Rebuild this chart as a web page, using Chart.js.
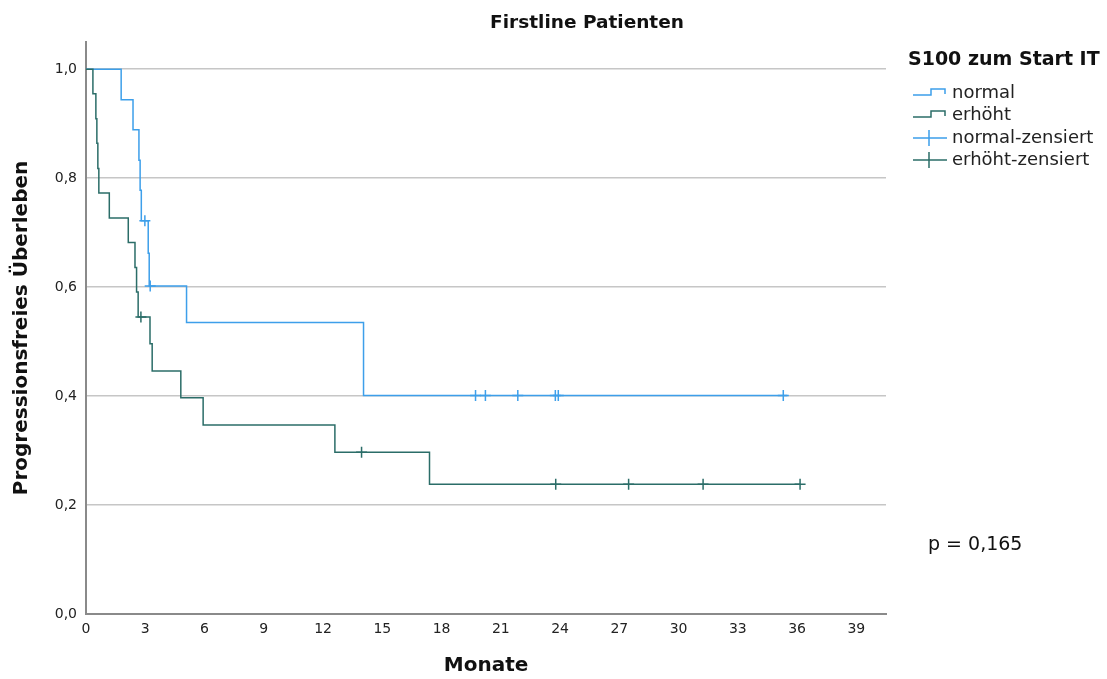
<!DOCTYPE html>
<html><head><meta charset="utf-8">
<script src="https://cdn.jsdelivr.net/npm/chart.js@4.4.1/dist/chart.umd.min.js"></script>
<style>html,body{margin:0;padding:0;background:#fff}#wrap{width:1107px;height:679px;position:relative}canvas{display:block}</style>
</head><body><div id="wrap"><canvas id="c" width="1107" height="679"></canvas></div>
<script>
// Kaplan-Meier step data (months, survival)
const normalTimes = [0, 1.78, 2.38, 2.68, 2.74, 2.8, 3.15, 3.2, 5.09, 14.05, 35.5];
const normalSurv  = [1, 0.944, 0.889, 0.833, 0.778, 0.722, 0.662, 0.602, 0.535, 0.401, 0.401];
const normalCensTimes = [2.98, 3.25, 19.72, 20.22, 21.86, 23.76, 23.91, 35.3];
const normalCensSurv  = [0.722, 0.602, 0.401, 0.401, 0.401, 0.401, 0.401, 0.401];

const erhoehtTimes = [0, 0.35, 0.5, 0.55, 0.6, 0.65, 1.18, 2.14, 2.48, 2.56, 2.64, 3.24, 3.35, 4.8, 5.93, 12.6, 17.39, 36.15];
const erhoehtSurv  = [1, 0.955, 0.909, 0.864, 0.818, 0.773, 0.727, 0.682, 0.636, 0.591, 0.545, 0.496, 0.446, 0.397, 0.347, 0.297, 0.238, 0.238];
const erhoehtCensTimes = [2.78, 13.95, 23.78, 27.47, 31.24, 36.15];
const erhoehtCensSurv  = [0.545, 0.297, 0.238, 0.238, 0.238, 0.238];

const xTicks = [0, 3, 6, 9, 12, 15, 18, 21, 24, 27, 30, 33, 36, 39];
const yTicks = [0, 0.2, 0.4, 0.6, 0.8, 1.0];

const chartTitle = 'Firstline Patienten';
const legendTitle = 'S100 zum Start IT';
const seriesNames = ['normal', 'erhöht', 'normal-zensiert', 'erhöht-zensiert'];
const pText = 'p = 0,165';
const xTitle = 'Monate';
const yTitle = 'Progressionsfreies Überleben';

const BLUE = '#3d9fea';
const TEAL = '#2b6d68';
const FONT = '"DejaVu Sans", sans-serif';

const pts = (xs, ys) => xs.map((x, i) => ({x, y: ys[i]}));

const overlay = {
  id: 'overlay',
  afterDraw(chart) {
    const ctx = chart.ctx;
    ctx.save();
    ctx.fillStyle = '#111';
    ctx.textBaseline = 'middle';
    ctx.font = 'bold 18.5px ' + FONT;
    ctx.textAlign = 'center';
    ctx.fillText(chartTitle, 587, 23);
    ctx.textAlign = 'left';
    ctx.font = 'bold 19px ' + FONT;
    ctx.fillText(legendTitle, 908, 60);
    ctx.font = '18px ' + FONT;
    const rows = [93, 115, 138, 160];
    const cols = [BLUE, TEAL, BLUE, TEAL];
    rows.forEach((y, i) => {
      ctx.strokeStyle = cols[i];
      ctx.lineWidth = 1.5;
      ctx.beginPath();
      if (i < 2) {
        ctx.moveTo(913, y + 2); ctx.lineTo(931, y + 2); ctx.lineTo(931, y - 4);
        ctx.lineTo(945, y - 4); ctx.lineTo(945, y + 1);
      } else {
        ctx.moveTo(913, y); ctx.lineTo(947, y);
        ctx.moveTo(929, y - 8); ctx.lineTo(929, y + 8);
      }
      ctx.stroke();
      ctx.fillStyle = '#222';
      ctx.fillText(seriesNames[i], 952, y);
    });
    ctx.font = '19px ' + FONT;
    ctx.fillStyle = '#111';
    ctx.fillText(pText, 928, 545);
    ctx.restore();
  }
};

new Chart(document.getElementById('c'), {
  type: 'line',
  data: {
    datasets: [
      {label: seriesNames[1], data: pts(erhoehtTimes, erhoehtSurv), stepped: 'before', borderColor: TEAL, borderWidth: 1.5, pointRadius: 0, fill: false},
      {label: seriesNames[0], data: pts(normalTimes, normalSurv), stepped: 'before', borderColor: BLUE, borderWidth: 1.5, pointRadius: 0, fill: false},
      {label: seriesNames[3], data: pts(erhoehtCensTimes, erhoehtCensSurv), showLine: false, pointStyle: 'cross', pointRadius: 5.5, pointBorderWidth: 1.5, pointBorderColor: TEAL, borderColor: TEAL},
      {label: seriesNames[2], data: pts(normalCensTimes, normalCensSurv), showLine: false, pointStyle: 'cross', pointRadius: 5.5, pointBorderWidth: 1.5, pointBorderColor: BLUE, borderColor: BLUE}
    ]
  },
  options: {
    responsive: false,
    animation: false,
    devicePixelRatio: 1,
    layout: {padding: {left: 0, right: 221, top: 42, bottom: 0}},
    plugins: {legend: {display: false}, title: {display: false}, tooltip: {enabled: false}},
    scales: {
      x: {
        type: 'linear', min: 0, max: 40.5,
        afterFit: s => { s.height = 65; },
        afterBuildTicks: s => { s.ticks = xTicks.map(v => ({value: v})); },
        ticks: {padding: 7, color: '#222', font: {family: FONT, size: 14}, callback: v => String(v), maxRotation: 0, autoSkip: false},
        grid: {display: false, drawTicks: false},
        border: {display: true, color: '#8a8a8a', width: 2},
        title: {display: true, text: xTitle, color: '#111', font: {family: FONT, size: 20, weight: 'bold', lineHeight: 1.2}, padding: {top: 0, bottom: 1}}
      },
      y: {
        type: 'linear', min: 0, max: 1.05,
        afterFit: s => { s.width = 86; },
        afterBuildTicks: s => { s.ticks = yTicks.map(v => ({value: v})); },
        ticks: {padding: 9, color: '#222', font: {family: FONT, size: 14}, callback: v => v.toFixed(1).replace('.', ',')},
        grid: {display: true, drawTicks: false, color: '#c6c6c6', lineWidth: 1.5},
        border: {display: true, color: '#8a8a8a', width: 2},
        title: {display: true, text: yTitle, color: '#111', font: {family: FONT, size: 20, weight: 'bold', lineHeight: 1.2}, padding: {top: 10, bottom: 0}}
      }
    }
  },
  plugins: [overlay]
});
</script>
</body></html>
